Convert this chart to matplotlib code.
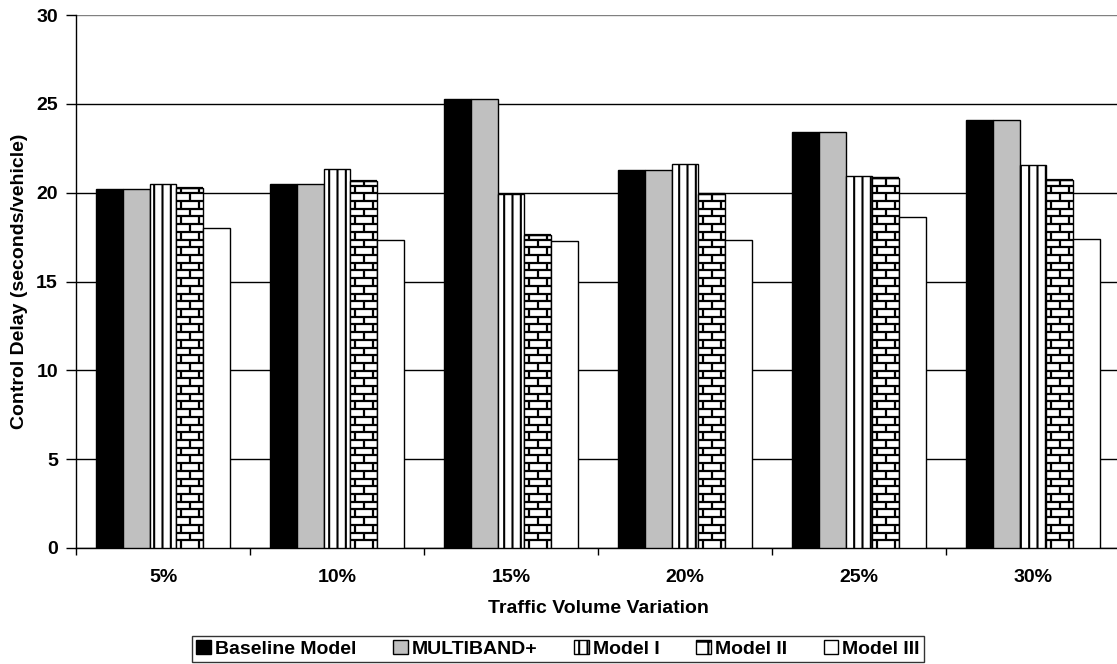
import numpy as np
import matplotlib
matplotlib.use("Agg")
import matplotlib.pyplot as plt
from matplotlib.patches import Patch
from matplotlib.collections import LineCollection

plt.rcParams['font.family'] = ['Liberation Sans', 'DejaVu Sans']
plt.rcParams['font.weight'] = 'bold'
plt.rcParams['hatch.linewidth'] = 1.5

# traffic volume variation levels
categories = ['5%', '10%', '15%', '20%', '25%', '30%']
series_names = ['Baseline Model', 'MULTIBAND+', 'Model I', 'Model II', 'Model III']

# control delay, seconds per vehicle
baseline = [20.2, 20.5, 25.3, 21.3, 23.4, 24.1]
multiband = [20.2, 20.5, 25.3, 21.3, 23.4, 24.1]
model_1 = [20.5, 21.35, 19.9, 21.6, 20.95, 21.55]
model_2 = [20.25, 20.65, 17.6, 19.9, 20.85, 20.7]
model_3 = [18.0, 17.35, 17.28, 17.35, 18.65, 17.38]

fig = plt.figure(figsize=(11.17, 6.64), dpi=100)
ax = fig.add_axes([76 / 1117, 1 - 548 / 664, 1044 / 1117, 533 / 664])

x = np.arange(len(categories))
width = 0.154
offsets = (np.arange(5) - 2) * width

styles = [
    dict(facecolor='black', edgecolor='black'),
    dict(facecolor='#c0c0c0', edgecolor='black'),
    dict(facecolor='white', edgecolor='black', hatch='||'),
    dict(facecolor='white', edgecolor='black'),
    dict(facecolor='white', edgecolor='black'),
]
all_values = [baseline, multiband, model_1, model_2, model_3]

containers = []
for vals, off, st in zip(all_values, offsets, styles):
    bars = ax.bar(x + off, vals, width, linewidth=1.0, zorder=3, **st)
    containers.append(bars)

# brick pattern for Model II
brick_h = 0.434
brick_w = 0.104
for rect in containers[3]:
    x0 = rect.get_x()
    x1 = x0 + rect.get_width()
    top = rect.get_height()
    segs = []
    n_rows = int(np.ceil(top / brick_h))
    for k in range(n_rows):
        yb = k * brick_h
        yt = min((k + 1) * brick_h, top)
        segs.append([(x0, yt), (x1, yt)])
        start = x0 + (0.75 if k % 2 else 0.25) * brick_w
        xs = start
        while xs < x1:
            segs.append([(xs, yb), (xs, yt)])
            xs += brick_w
    lc = LineCollection(segs, colors='black', linewidths=1.6, zorder=4)
    lc.set_clip_path(rect)
    ax.add_collection(lc)

ax.set_xlim(-0.5, len(categories) - 0.5)
ax.set_ylim(0, 30)
ax.set_yticks(np.arange(0, 31, 5))
ax.yaxis.grid(True, color='black', linewidth=1.0, zorder=0)
ax.set_axisbelow(True)
ax.yaxis.get_gridlines()[-1].set_color('#808080')

ax.set_xticks(x)
ax.set_xticklabels(categories, fontsize=14, fontweight='bold')
ax.set_xticks(np.arange(-0.5, len(categories)), minor=True)
ax.tick_params(axis='x', which='major', length=0, pad=15)
ax.tick_params(axis='x', which='minor', length=5, width=1, direction='out')
ax.tick_params(axis='y', length=7, width=1, direction='out', labelsize=14, pad=6)
for lbl in ax.get_yticklabels():
    lbl.set_fontweight('bold')

for side in ['top', 'right']:
    ax.spines[side].set_visible(False)
ax.spines['left'].set_linewidth(1.0)
ax.spines['bottom'].set_linewidth(1.0)

ax.set_xlabel('Traffic Volume Variation', fontsize=14, fontweight='bold', labelpad=10)
ax.set_ylabel('Control Delay (seconds/vehicle)', fontsize=14, fontweight='bold', labelpad=6)

handles = [
    Patch(facecolor='black', edgecolor='black'),
    Patch(facecolor='#c0c0c0', edgecolor='black'),
    Patch(facecolor='white', edgecolor='black', hatch='||'),
    Patch(facecolor='white', edgecolor='black', hatch='+'),
    Patch(facecolor='white', edgecolor='black'),
]
leg = fig.legend(handles, series_names, loc='center', ncol=5,
                 bbox_to_anchor=(558 / 1117, 1 - 649 / 664),
                 frameon=True, fancybox=False, edgecolor='black',
                 handlelength=0.75, handleheight=0.75, handletextpad=0.2,
                 columnspacing=1.9, borderpad=0.2, borderaxespad=0,
                 prop={'weight': 'bold', 'size': 14})
leg.get_frame().set_linewidth(1.0)

fig.savefig('out.png', dpi=100)
